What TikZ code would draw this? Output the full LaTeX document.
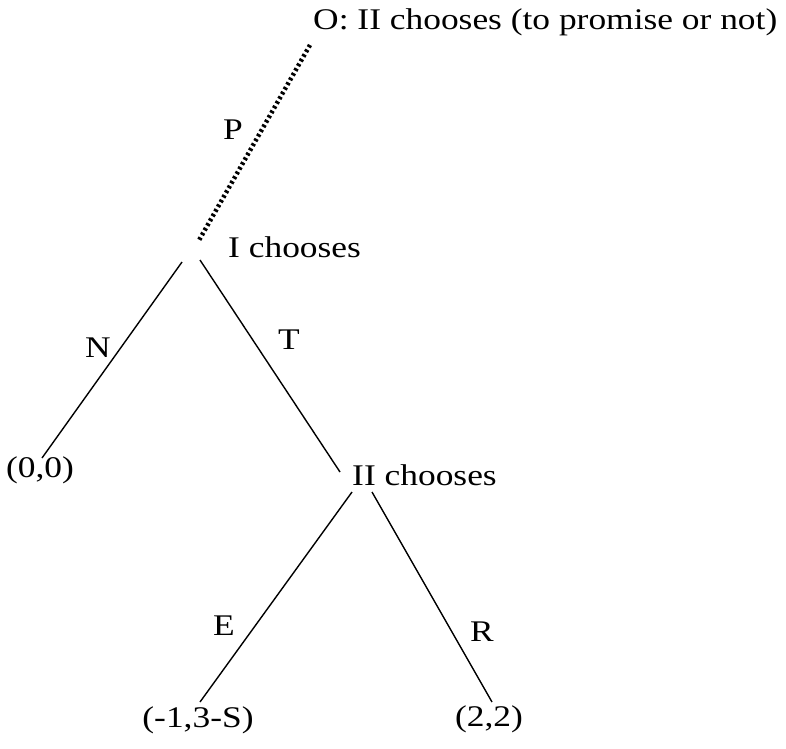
\documentclass[tikz,border=0pt]{standalone}
\usepackage{fontspec}
\setmainfont{Liberation Serif}
\begin{document}
\begin{tikzpicture}[x=1pt,y=-1pt,
  lbl/.style={inner sep=0pt,font=\fontsize{30}{36}\selectfont,xscale=1.18,transform shape},
  edge/.style={line width=1.4pt},
  dotedge/.style={line width=4.5pt,dash pattern=on 2.6pt off 2.8pt}]
\useasboundingbox (0,0) rectangle (786,748);
\coordinate (o) at (310,45);
\coordinate (i) at (198,242);
\coordinate (iL) at (182,262);
\coordinate (iR) at (200,260);
\coordinate (nn) at (42,458);
\coordinate (ii) at (340,472);
\coordinate (iiL) at (352,492);
\coordinate (iiR) at (372,492);
\coordinate (e) at (200,702);
\coordinate (r) at (492,702);
\node[lbl,anchor=west] (Olab) at (313,22) {O: II chooses (to promise or not)};
\node[lbl] (P) at (233,130) {P};
\node[lbl,anchor=west] (Ilab) at (228,247) {I chooses};
\node[lbl] (N) at (98,348) {N};
\node[lbl] (T) at (289,340) {T};
\node[lbl] (z) at (40,470) {(0,0)};
\node[lbl,anchor=west] (IIlab) at (352,475) {II chooses};
\node[lbl] (E) at (224,626) {E};
\node[lbl] (R) at (482,632) {R};
\node[lbl] (pe) at (198,720) {(-1,3-S)};
\node[lbl] (pr) at (489,719) {(2,2)};
\draw[dotedge] (o) -- (i);
\draw[edge] (iL) -- (nn);
\draw[edge] (iR) -- (ii);
\draw[edge] (iiL) -- (e);
\draw[edge] (iiR) -- (r);
\end{tikzpicture}
\end{document}
